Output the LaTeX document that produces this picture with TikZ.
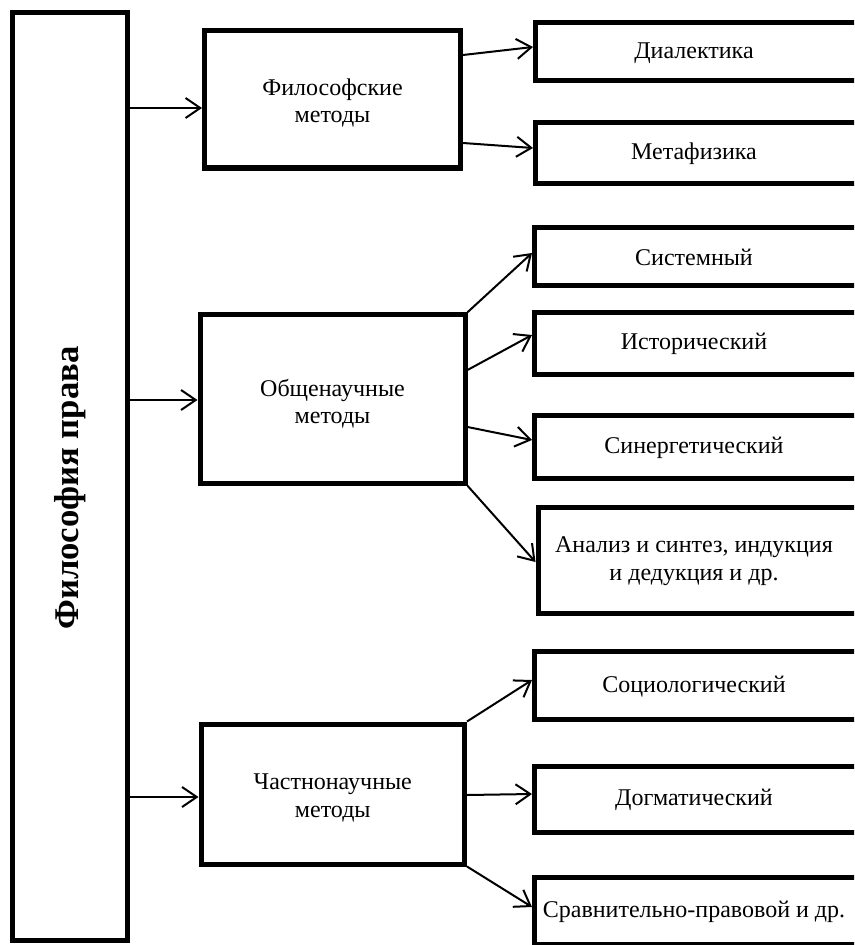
\documentclass[tikz,border=0pt]{standalone}
\usepackage{fontspec}
\setmainfont{Liberation Serif}
\usetikzlibrary{arrows.meta}
\begin{document}
\begin{tikzpicture}[x=0.75pt,y=-0.75pt,
  txt/.style={align=center,font=\fontsize{18pt}{20.5pt}\selectfont},
  box/.style={draw=black,line width=3.75pt,inner sep=0pt},
  arr/.style={line width=1.5pt,-{Straight Barb[length=11pt,width=15pt,line width=1.5pt]}}]
\useasboundingbox (0,0) rectangle (854,945);
\clip (0,0) rectangle (854,945);
% main box
\node[box,minimum width=115*0.75pt,minimum height=928.5*0.75pt] (lb) at (69.5,476.5) {};
\node[rotate=90,font=\fontsize{26pt}{28pt}\selectfont\bfseries] (lbt) at (70,488) {Философия права};
% level 2
\node[box,minimum width=256*0.75pt,minimum height=137*0.75pt] (phil) at (332.5,99.5) {};
\node[txt] (philt) at (332.5,103) {Философские\\методы};
\node[box,minimum width=265*0.75pt,minimum height=168.5*0.75pt] (obsh) at (332.5,399) {};
\node[txt] (obsht) at (332.5,404) {Общенаучные\\методы};
\node[box,minimum width=263.5*0.75pt,minimum height=140*0.75pt] (chast) at (332.75,794) {};
\node[txt] (chastt) at (332.75,798) {Частнонаучные\\методы};
% level 3 (right edge beyond the picture)
\def\rb#1#2#3#4#5{\node[box,anchor=north west,minimum width=330*0.75pt,minimum height=#3*0.75pt] (#1) at (#4,#2) {};
  \node[txt] (#1t) at (694,#2+#3/2+3.5) {#5};}
\rb{dial}{20.5}{58}{533}{Диалектика}
\rb{meta}{120.5}{60}{533}{Метафизика}
\rb{sys}{225}{57.5}{532}{Системный}
\rb{ist}{309.5}{62.5}{532}{Исторический}
\rb{sin}{413}{62.5}{532}{Синергетический}
\rb{anal}{505}{105.5}{535.5}{Анализ и синтез, индукция\\и дедукция и др.}
\rb{soc}{648.5}{68.5}{532}{Социологический}
\rb{dog}{764}{65.5}{532}{Догматический}
\rb{srav}{874.5}{67}{532}{Сравнительно-правовой и др.}
% connectors
\draw[arr] (lb.east |- 0,108) -- (phil.west |- 0,108);
\draw[arr] (lb.east |- 0,400) -- (obsh.west |- 0,400);
\draw[arr] (lb.east |- 0,797) -- (chast.west |- 0,797);
\draw[arr] (phil.east |- 0,55) -- (dial.west |- 0,47);
\draw[arr] (phil.east |- 0,143) -- (meta.west |- 0,148);
\draw[arr] (obsh.north east) -- (sys.west |- 0,253);
\draw[arr] (obsh.east |- 0,370) -- (ist.west |- 0,335);
\draw[arr] (obsh.east |- 0,427) -- (sin.west |- 0,440);
\draw[arr] (obsh.south east) -- (anal.west |- 0,562);
\draw[arr] (chast.north east) -- (soc.west |- 0,680);
\draw[arr] (chast.east |- 0,795) -- (dog.west |- 0,794);
\draw[arr] (chast.south east) -- (srav.west |- 0,907);
\end{tikzpicture}
\end{document}
